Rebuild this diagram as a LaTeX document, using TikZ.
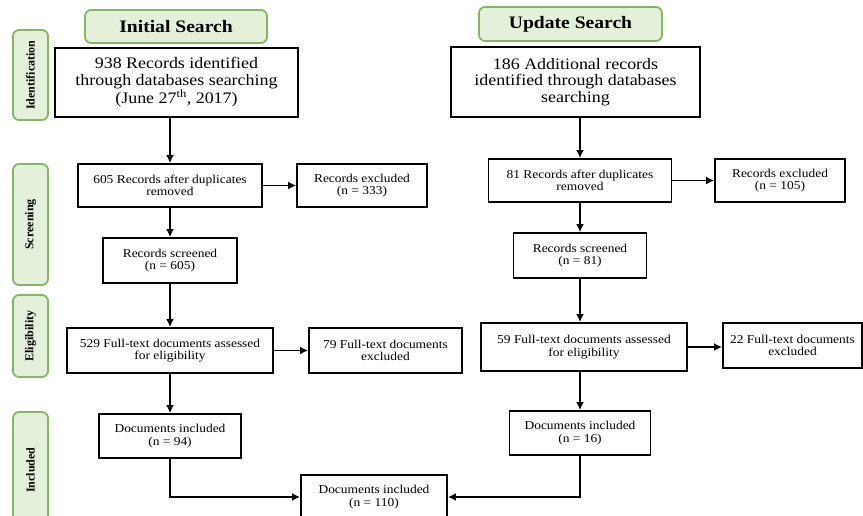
\documentclass[tikz,border=0pt]{standalone}
\usepackage{fontspec}
\setmainfont{Liberation Serif}
\newfontfamily\widefont[FakeStretch=1.12]{Liberation Serif}
\usetikzlibrary{arrows.meta}
\definecolor{stagefill}{HTML}{E4F0DA}
\definecolor{stageline}{HTML}{86B565}
\tikzset{
    >={Latex[length=8pt,width=8pt]},
    box/.style={draw,line width=1.9pt,align=center,inner sep=2pt,
	font=\widefont\fontsize{12}{12.5}\selectfont},
    bigbox/.style={box,font=\widefont\fontsize{16}{16.5}\selectfont},
    stage/.style={draw=stageline,fill=stagefill,line width=1.8pt,
	rounded corners=6pt,align=center,font=\bfseries\fontsize{12}{13}\selectfont},
    header/.style={stage,font=\widefont\bfseries\fontsize{17.5}{19}\selectfont},
    flow/.style={->,line width=1.6pt}
}
\begin{document}
\begin{tikzpicture}[x=1pt,y=-1pt]
\useasboundingbox (0,0) rectangle (863,515);
% stages on the left
\node (ident) [stage,rotate=90,minimum width=90,minimum height=35] at (30.5,75) {Identification};
\node (screen) [stage,rotate=90,minimum width=121,minimum height=35] at (30.5,224.5) {Screening};
\node (elig) [stage,rotate=90,minimum width=82,minimum height=35] at (30.5,336) {Eligibility};
\node (incl) [stage,rotate=90,minimum width=116,minimum height=35] at (30.5,470) {Included};
% headers
\node (init) [header,minimum width=182,minimum height=33] at (176,26.5) {Initial Search};
\node (upd) [header,minimum width=183,minimum height=34] at (570.5,24) {Update Search};
% initial search
\node (a1) [bigbox,minimum width=243,minimum height=69] at (176.5,82.5)
    {938 Records identified\\through databases searching\\(June 27\textsuperscript{th}, 2017)};
\node (a2) [box,minimum width=184,minimum height=43] at (170,185.5)
    {605 Records after duplicates\\removed};
\node (a2x) [box,minimum width=130,minimum height=43] at (362,185.5)
    {Records excluded\\(n = 333)};
\node (a3) [box,minimum width=134,minimum height=45] at (170,260.5)
    {Records screened\\(n = 605)};
\node (a4) [box,minimum width=206,minimum height=45] at (170,350.5)
    {529 Full-text documents assessed\\for eligibility};
\node (a4x) [box,minimum width=153,minimum height=45] at (385.5,350.5)
    {79 Full-text documents\\excluded};
\node (a5) [box,minimum width=142,minimum height=44] at (170,436)
    {Documents included\\(n = 94)};
% update search
\node (b1) [bigbox,minimum width=249,minimum height=70] at (575.5,82)
    {186 Additional records\\identified through databases\\searching};
\node (b2) [box,minimum width=183,minimum height=43] at (580,180.5)
    {81 Records after duplicates\\removed};
\node (b2x) [box,minimum width=130,minimum height=43] at (780,180.5)
    {Records excluded\\(n = 105)};
\node (b3) [box,minimum width=133,minimum height=45] at (580,255.5)
    {Records screened\\(n = 81)};
\node (b4) [box,minimum width=206,minimum height=48] at (584,347)
    {59 Full-text documents assessed\\for eligibility};
\node (b4x) [box,minimum width=139,minimum height=45] at (792.5,345.5)
    {22 Full-text documents\\excluded};
\node (b5) [box,minimum width=141,minimum height=44] at (580,433)
    {Documents included\\(n = 16)};
% both
\node (fin) [box,minimum width=146,minimum height=44] at (374,497)
    {Documents included\\(n = 110)};
% arrows
\draw [flow] (a1.south -| a2.north) -- (a2.north);
\draw [flow] (a2) -- (a2x);
\draw [flow] (a2) -- (a3);
\draw [flow] (a3) -- (a4);
\draw [flow] (a4) -- (a4x);
\draw [flow] (a4) -- (a5);
\draw [flow] (b1.south -| b2.north) -- (b2.north);
\draw [flow] (b2) -- (b2x);
\draw [flow] (b2) -- (b3);
\draw [flow] (b3.south) -- (b3.south |- b4.north);
\draw [flow] (b4) -- (b4.east -| b4x.west);
\draw [flow] (b4.south -| b5.north) -- (b5.north);
\draw [flow] (a5.south) |- (fin.west);
\draw [flow] (b5.south) |- (fin.east);
\end{tikzpicture}
\end{document}
